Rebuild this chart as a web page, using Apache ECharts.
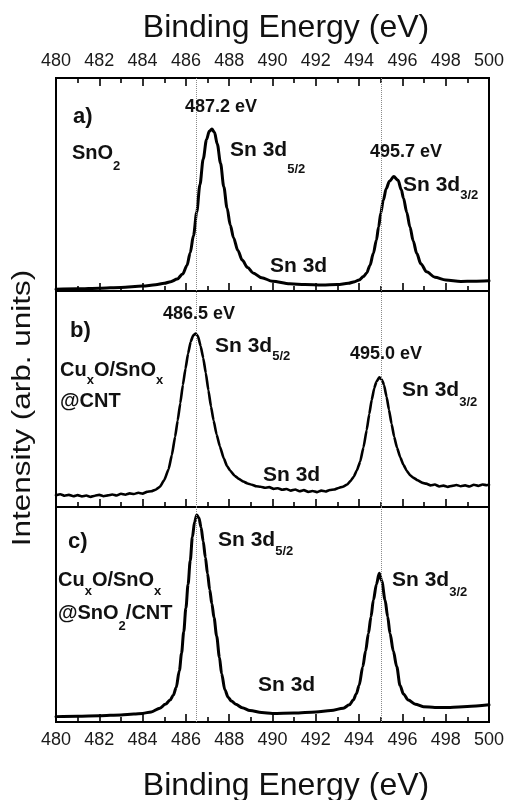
<!DOCTYPE html>
<html>
<head>
<meta charset="utf-8">
<title>Sn 3d XPS</title>
<script src="https://cdn.jsdelivr.net/npm/echarts@6/dist/echarts.min.js"></script>
<style>
  html, body { margin: 0; padding: 0; background: #fff; }
  #chart { width: 505px; height: 800px; }
</style>
</head>
<body>
<div id="chart"></div>
<script>
// Binding-energy axis range (eV)
const energyMin = 480;
const energyMax = 500;
const energyStep = 2;

// Reference positions of the Sn 3d5/2 and Sn 3d3/2 peaks (dotted guides)
const guideEnergies = [486.5, 495.0];

// a) SnO2 — [binding energy (eV), intensity (arb. units)]
const spectrumA = [
  [480.0, 0.8], [481.0, 1.0], [482.0, 1.3], [483.0, 1.7], [484.0, 2.3], [484.6, 2.9],
  [485.0, 3.6], [485.3, 4.4], [485.6, 5.6], [485.85, 8.0], [486.05, 12.0], [486.2, 18.0],
  [486.35, 26.0], [486.5, 37.0], [486.65, 50.0], [486.8, 62.0], [486.95, 71.0], [487.08, 75.0],
  [487.2, 76.0], [487.32, 74.5], [487.45, 69.0], [487.6, 60.0], [487.75, 49.0], [487.9, 39.0],
  [488.05, 31.0], [488.2, 25.0], [488.4, 19.0], [488.6, 14.5], [488.85, 11.0], [489.1, 8.5],
  [489.5, 6.2], [490.0, 4.6], [490.8, 3.4], [491.5, 3.0], [492.3, 2.8], [493.0, 3.0],
  [493.5, 3.6], [493.8, 4.4], [494.0, 5.2], [494.2, 6.8], [494.35, 8.5], [494.5, 12.0],
  [494.66, 17.7], [494.8, 24.0], [494.9, 30.0], [495.0, 36.5], [495.12, 42.7], [495.25, 48.0],
  [495.4, 51.5], [495.6, 53.7], [495.8, 52.0], [495.95, 47.5], [496.05, 43.5], [496.2, 37.0],
  [496.35, 30.0], [496.5, 23.5], [496.66, 17.7], [496.85, 12.8], [497.12, 9.0], [497.5, 6.5],
  [498.0, 5.2], [498.7, 4.5], [499.3, 4.6], [500.0, 4.8]
];

// b) CuxO/SnOx@CNT
const spectrumB = [
  [480.0, 5.4], [480.2, 5.9], [480.4, 5.2], [480.6, 5.6], [480.8, 5.0], [481.0, 5.5],
  [481.2, 4.9], [481.4, 5.3], [481.6, 4.7], [481.8, 5.2], [482.0, 5.6], [482.2, 5.0],
  [482.4, 5.4], [482.6, 5.8], [482.8, 5.3], [483.0, 6.1], [483.2, 5.7], [483.4, 6.3],
  [483.6, 6.0], [483.8, 6.6], [484.0, 6.2], [484.2, 7.0], [484.4, 7.3], [484.6, 8.0],
  [484.8, 9.4], [485.0, 12.5], [485.2, 17.5], [485.35, 24.0], [485.5, 32.5], [485.62, 40.0],
  [485.74, 48.0], [485.86, 56.5], [485.98, 64.0], [486.1, 71.0], [486.22, 76.5], [486.34, 79.5],
  [486.45, 80.3], [486.56, 79.0], [486.68, 74.5], [486.8, 69.0], [486.92, 62.0], [487.04, 54.0],
  [487.16, 46.5], [487.28, 40.0], [487.42, 33.5], [487.57, 28.0], [487.75, 22.5], [487.9, 19.0],
  [488.05, 16.8], [488.25, 14.5], [488.45, 13.0], [488.65, 11.8], [488.85, 10.9], [489.05, 10.3],
  [489.25, 9.6], [489.45, 9.4], [489.65, 8.9], [489.85, 9.2], [490.05, 8.4], [490.25, 8.7],
  [490.45, 8.0], [490.65, 8.3], [490.85, 7.6], [491.05, 8.1], [491.25, 7.3], [491.45, 7.8],
  [491.65, 7.0], [491.85, 7.4], [492.05, 6.9], [492.25, 7.6], [492.45, 7.2], [492.65, 7.9],
  [492.85, 8.1], [493.05, 8.8], [493.25, 9.4], [493.45, 10.4], [493.6, 12.0], [493.75, 14.0],
  [493.9, 17.0], [494.05, 21.0], [494.2, 27.5], [494.35, 35.6], [494.47, 43.0], [494.58, 49.5],
  [494.7, 55.0], [494.8, 58.0], [494.93, 60.0], [495.05, 59.0], [495.15, 56.5], [495.27, 51.0],
  [495.38, 45.0], [495.5, 38.5], [495.62, 32.5], [495.75, 27.5], [495.9, 23.0], [496.05, 19.5],
  [496.2, 16.8], [496.35, 14.8], [496.5, 13.6], [496.7, 12.4], [496.9, 11.3], [497.1, 10.8],
  [497.3, 10.0], [497.5, 10.4], [497.7, 9.5], [497.9, 9.9], [498.1, 9.3], [498.3, 9.8],
  [498.5, 10.2], [498.7, 9.6], [498.9, 10.0], [499.1, 9.5], [499.3, 10.3], [499.5, 9.8],
  [499.7, 10.4], [499.9, 10.1], [500.0, 10.3]
];

// c) CuxO/SnOx@SnO2/CNT
const spectrumC = [
  [480.0, 2.5], [481.0, 2.7], [482.0, 2.9], [483.0, 3.3], [483.6, 3.7], [484.0, 4.0],
  [484.4, 4.7], [484.8, 6.4], [485.05, 8.2], [485.27, 10.2], [485.42, 12.5], [485.55, 16.0],
  [485.7, 24.0], [485.8, 32.0], [485.9, 42.0], [486.0, 53.0], [486.1, 64.0], [486.2, 75.0],
  [486.3, 86.0], [486.4, 93.0], [486.5, 96.3], [486.6, 95.0], [486.7, 90.5], [486.8, 84.0],
  [486.9, 76.5], [487.0, 69.0], [487.1, 61.5], [487.2, 55.0], [487.3, 48.5], [487.42, 40.0],
  [487.55, 30.0], [487.65, 22.5], [487.8, 15.0], [487.95, 11.5], [488.1, 9.8], [488.3, 8.3],
  [488.6, 6.6], [488.96, 5.3], [489.5, 4.4], [490.0, 4.0], [491.0, 4.2], [492.0, 4.7],
  [492.7, 5.3], [493.27, 6.4], [493.55, 8.0], [493.73, 10.2], [493.87, 13.0], [494.0, 17.0],
  [494.17, 25.7], [494.3, 33.0], [494.43, 41.2], [494.55, 49.0], [494.66, 56.7], [494.8, 64.0],
  [494.93, 69.2], [495.05, 65.5], [495.2, 56.7], [495.32, 49.0], [495.43, 41.2], [495.58, 33.0],
  [495.74, 25.7], [495.89, 17.0], [496.05, 13.0], [496.27, 10.2], [496.6, 8.3], [496.97, 7.1],
  [497.5, 6.8], [498.2, 6.8], [499.0, 7.2], [500.0, 8.0]
];

// Panel annotations: [rich text, left, top, fontSize, subscript drop]
const annotations = [
  ['{m|a)}', 73, 106, 22, 0],
  ['{m|487.2 eV}', 185, 98, 18, 0],
  ['{m|SnO}{s|2}', 72, 143, 20, 10],
  ['{m|Sn 3d}{s|5/2}', 230, 140, 21, 15],
  ['{m|495.7 eV}', 370, 143, 18, 0],
  ['{m|Sn 3d}{s|3/2}', 403, 175, 21, 6],
  ['{m|Sn 3d}', 270, 256, 21, 0],

  ['{m|b)}', 70, 320, 22, 0],
  ['{m|486.5 eV}', 163, 305, 18, 0],
  ['{m|Sn 3d}{s|5/2}', 215, 336, 21, 6],
  ['{m|Cu}{s|x}{m|O/SnO}{s|x}', 60, 360, 20, 7],
  ['{m|@CNT}', 60, 391, 20, 0],
  ['{m|495.0 eV}', 350, 345, 18, 0],
  ['{m|Sn 3d}{s|3/2}', 402, 380, 21, 8],
  ['{m|Sn 3d}', 263, 465, 21, 0],

  ['{m|c)}', 68, 531, 22, 0],
  ['{m|Sn 3d}{s|5/2}', 218, 530, 21, 7],
  ['{m|Cu}{s|x}{m|O/SnO}{s|x}', 58, 570, 20, 8],
  ['{m|@SnO}{s|2}{m|/CNT}', 58, 603, 20, 10],
  ['{m|Sn 3d}{s|3/2}', 392, 570, 21, 8],
  ['{m|Sn 3d}', 258, 675, 21, 0]
];

const FONT = '"Liberation Sans", Arial, sans-serif';
const INK = '#111';

const chart = echarts.init(document.getElementById('chart'));

const panels = [
  { top: 78, height: 213 },
  { top: 291, height: 216 },
  { top: 507, height: 215 }
];

function xAxisBase(gridIndex, position, showLabels, labelMargin) {
  return {
    type: 'value',
    gridIndex: gridIndex,
    position: position,
    min: energyMin,
    max: energyMax,
    interval: energyStep,
    z: 4,
    axisLine: { show: true, onZero: false, lineStyle: { color: '#000', width: 2 } },
    axisTick: { show: true, inside: true, length: 8, lineStyle: { color: '#000', width: 1.6 } },
    minorTick: { show: true, splitNumber: 2, length: 5, lineStyle: { color: '#000', width: 1.6 } },
    splitLine: { show: false },
    axisLabel: {
      show: showLabels,
      margin: labelMargin,
      verticalAlign: 'middle',
      fontFamily: FONT,
      fontSize: 18,
      color: '#1a1a1a'
    }
  };
}

const guideLine = {
  silent: true,
  symbol: ['none', 'none'],
  label: { show: false },
  lineStyle: { color: '#8a8a8a', type: 'dotted', width: 1 },
  data: guideEnergies.map(function (e) { return { xAxis: e }; })
};

function spectrumSeries(data, xIndex, yIndex, width, smooth) {
  return {
    type: 'line',
    xAxisIndex: xIndex,
    yAxisIndex: yIndex,
    data: data,
    showSymbol: false,
    smooth: smooth,
    smoothMonotone: 'x',
    lineStyle: { color: '#000', width: width, join: 'round', cap: 'round' },
    markLine: guideLine,
    z: 3
  };
}

const graphics = [
  {
    type: 'text',
    x: 286, y: 28,
    style: {
      text: 'Binding Energy (eV)', fontFamily: FONT, fontSize: 32,
      fill: INK, align: 'center', verticalAlign: 'middle'
    }
  },
  {
    type: 'text',
    x: 286, y: 786,
    style: {
      text: 'Binding Energy (eV)', fontFamily: FONT, fontSize: 32,
      fill: INK, align: 'center', verticalAlign: 'middle'
    }
  },
  {
    type: 'text',
    x: 23, y: 408,
    rotation: Math.PI / 2,
    scaleX: 1.26,
    style: {
      text: 'Intensity (arb. units)', fontFamily: FONT, fontSize: 25,
      fill: INK, align: 'center', verticalAlign: 'middle'
    }
  }
];

annotations.forEach(function (a) {
  const fs = a[3];
  const drop = a[4];
  graphics.push({
    type: 'text',
    x: a[1],
    y: a[2],
    z: 10,
    style: {
      text: a[0],
      align: 'left',
      verticalAlign: 'top',
      rich: {
        m: {
          fontFamily: FONT, fontSize: fs, fontWeight: 'bold', fill: INK,
          verticalAlign: 'bottom', padding: [0, 0, drop, 0]
        },
        s: {
          fontFamily: FONT, fontSize: 13, fontWeight: 'bold', fill: INK,
          verticalAlign: 'bottom'
        }
      }
    }
  });
});

chart.setOption({
  animation: false,
  grid: panels.map(function (p) {
    return {
      left: 56, right: 16, top: p.top, height: p.height,
      outerBoundsMode: 'none',
      show: true, borderColor: '#000', borderWidth: 2
    };
  }),
  xAxis: [
    xAxisBase(0, 'top', true, 17),
    xAxisBase(0, 'bottom', false, 8),
    xAxisBase(1, 'bottom', false, 8),
    xAxisBase(2, 'bottom', true, 18)
  ],
  yAxis: panels.map(function (p, i) {
    return { type: 'value', gridIndex: i, min: 0, max: 100, show: false };
  }),
  series: [
    spectrumSeries(spectrumA, 1, 0, 3, 0.3),
    spectrumSeries(spectrumB, 2, 1, 2.6, 0.15),
    spectrumSeries(spectrumC, 3, 2, 3, 0.3)
  ],
  graphic: graphics
});
</script>
</body>
</html>
